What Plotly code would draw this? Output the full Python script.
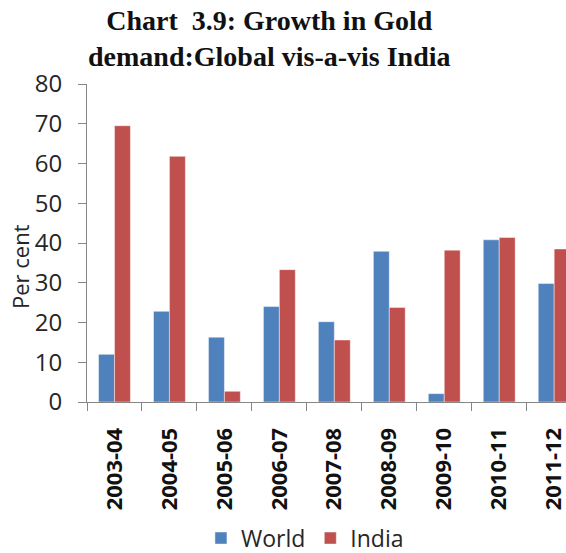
import plotly.graph_objects as go

# Financial years on the category axis
years = ["2003-04", "2004-05", "2005-06", "2006-07", "2007-08",
         "2008-09", "2009-10", "2010-11", "2011-12"]

# Growth in gold demand, per cent
world = [12.0, 22.8, 16.3, 24.0, 20.2, 37.9, 2.1, 40.8, 29.8]
india = [69.5, 61.8, 2.7, 33.3, 15.6, 23.8, 38.2, 41.4, 38.5]

W, H = 566, 553
left, top, bottom = 87, 84, 151

fig = go.Figure()
fig.add_trace(go.Bar(x=years, y=world, name="World",
                     marker=dict(color="#4F81BD", line=dict(color="rgba(255,255,255,0.45)", width=1))))
fig.add_trace(go.Bar(x=years, y=india, name="India",
                     marker=dict(color="#C0504D", line=dict(color="rgba(255,255,255,0.45)", width=1))))

axis_col = "#868686"
sans = "Open Sans, Liberation Sans, sans-serif"

fig.update_layout(
    width=W, height=H,
    margin=dict(l=left, r=0, t=top, b=bottom, autoexpand=False),
    paper_bgcolor="white", plot_bgcolor="white",
    barmode="group", bargap=0.42, bargroupgap=0,
    showlegend=True,
    legend=dict(orientation="h", x=0.455, xanchor="center", y=-0.428, yanchor="middle",
                font=dict(family=sans, size=23, color="#262626"),
                itemwidth=30, traceorder="normal"),
    xaxis=dict(type="category", range=[-0.5, 8.215], showline=True, linecolor=axis_col, linewidth=1,
               ticks="outside", tickcolor=axis_col, ticklen=8, tickson="boundaries",
               tickangle=-90, showgrid=False, zeroline=False, ticklabelstandoff=16,
               automargin=False,
               tickfont=dict(family=sans, size=22, color="#111111", weight="bold")),
    yaxis=dict(range=[0, 80], dtick=10, showline=True, linecolor=axis_col, linewidth=1,
               ticks="outside", tickcolor=axis_col, ticklen=8, showgrid=False, zeroline=False,
               automargin=False,
               tickfont=dict(family=sans, size=24, color="#262626"), ticklabelstandoff=11),
)

# Chart title
fig.add_annotation(text="<b>Chart  3.9: Growth in Gold<br>demand:Global vis-a-vis India</b>",
                   xref="paper", yref="paper", x=(269 - left) / (W - left), y=1 + (top - 3) / (H - top - bottom),
                   xanchor="center", yanchor="top", showarrow=False, align="center",
                   font=dict(family="Liberation Serif, serif", size=28, color="#111111"))

# Vertical axis title
fig.add_annotation(text="Per cent", xref="paper", yref="paper",
                   x=(20 - left) / (W - left), y=(H - bottom - 267) / (H - top - bottom),
                   xanchor="center", yanchor="middle", textangle=-90, showarrow=False,
                   font=dict(family=sans, size=22, color="#262626"))

fig.write_html("out.html")
